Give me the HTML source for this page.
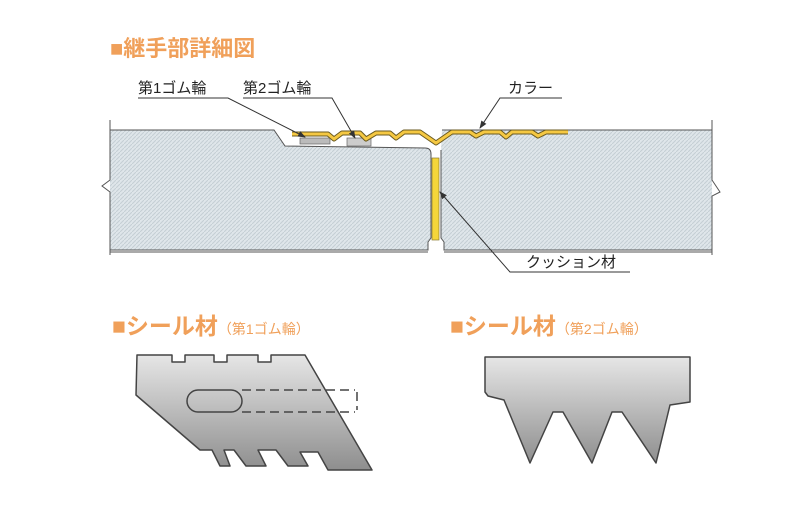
<!DOCTYPE html>
<html><head><meta charset="utf-8"><style>
body{margin:0;background:#fff}
svg{display:block}
text{font-family:"Liberation Sans","Noto Sans CJK JP",sans-serif}
</style></head><body>
<svg width="800" height="519" viewBox="0 0 800 519" xmlns="http://www.w3.org/2000/svg">
<defs>
<pattern id="hp" width="4" height="4" patternUnits="userSpaceOnUse">
<rect width="4" height="4" fill="#dfe6ea"/><path d="M0 4L4 0" stroke="#c4ced4" stroke-width="1"/>
</pattern>
<linearGradient id="g1" x1="0" y1="0" x2="0" y2="1">
<stop offset="0" stop-color="#e6e6e6"/><stop offset="1" stop-color="#8e8e8e"/>
</linearGradient>
<marker id="ar" markerWidth="8" markerHeight="8" refX="7" refY="4" orient="auto" markerUnits="userSpaceOnUse">
<path d="M0 1 L8 4 L0 7 Z" fill="#333"/>
</marker>
</defs>
<text x="110" y="56" font-size="22" fill="#f0a05a" font-weight="bold">■継手部詳細図</text>

<!-- pipes -->
<path d="M110 130 L274 130 L285 146 L425 148 Q431 148 431 154 L431 238 L428 242 L428 250 L110 250 Z" fill="url(#hp)"/>
<path d="M110 130 L274 130 L285 146 L425 148 Q431 148 431 154 L431 238 L428 242 L428 250 L110 250" fill="none" stroke="#555" stroke-width="1"/>
<path d="M442 130 L712 130 L712 250 L444 250 L444 242 L441 238 L441 150 Z" fill="url(#hp)"/>
<path d="M442 130 L712 130 M712 250 L444 250 L444 242 L441 238 L441 150" fill="none" stroke="#555" stroke-width="1"/>
<path d="M110 120 L110 180 L102 186 L110 192 L110 255" fill="none" stroke="#555"/>
<path d="M712 120 L712 180 L720 192 L712 196 L712 255" fill="none" stroke="#555"/>
<path d="M110 252 L428 252 M444 252 L712 252" stroke="#555"/>
<rect x="432" y="158" width="7" height="82" fill="#f5d63a" stroke="#8a7a30" stroke-width="0.7"/>
<rect x="300" y="138" width="30" height="6" fill="#bbb" stroke="#666" stroke-width="0.7"/>
<rect x="347" y="138" width="24" height="8" fill="#ccc" stroke="#666" stroke-width="0.7"/>
<path d="M292 134 L328 134 L334 139 L342 133 L360 133 L366 139 L376 133 L390 133 L396 138 L404 132 L420 132 L436 143 L452 132 L470 132 L476 136 L484 132 L500 132 L506 137 L512 132 L532 132 L538 136 L546 132 L568 132" fill="none" stroke="#6a5a20" stroke-width="5" stroke-linejoin="round"/>
<path d="M292 134 L328 134 L334 139 L342 133 L360 133 L366 139 L376 133 L390 133 L396 138 L404 132 L420 132 L436 143 L452 132 L470 132 L476 136 L484 132 L500 132 L506 137 L512 132 L532 132 L538 136 L546 132 L568 132" fill="none" stroke="#f5c842" stroke-width="3" stroke-linejoin="round"/>

<g font-size="15" fill="#222">
<text x="138" y="93">第1ゴム輪</text>
<text x="243" y="93">第2ゴム輪</text>
<text x="508" y="93">カラー</text>
<text x="526" y="267">クッション材</text>
</g>
<g stroke="#333" stroke-width="1" fill="none">
<path d="M138 98 L228 98 L305 137" marker-end="url(#ar)"/>
<path d="M243 98 L332 98 L355 138" marker-end="url(#ar)"/>
<path d="M562 98 L500 98 L480 128" marker-end="url(#ar)"/>
<path d="M630 272 L510 272 L440 192" marker-end="url(#ar)"/>
</g>

<text x="112" y="334" font-size="23" fill="#f0a05a" font-weight="bold">■シール材<tspan font-size="14" font-weight="normal">（第1ゴム輪）</tspan></text>
<text x="450" y="334" font-size="23" fill="#f0a05a" font-weight="bold">■シール材<tspan font-size="14" font-weight="normal">（第2ゴム輪）</tspan></text>

<path d="M137 355 L172 355 L172 362 L185 362 L185 355 L214 355 L214 362 L227 362 L227 355 L258 355 L258 362 L271 362 L271 355 L305 355 L372 470 L328 470 L318 452 L300 452 L308 466 L288 466 L276 450 L258 450 L266 466 L246 466 L234 450 L224 450 L230 466 L220 466 L212 450 L200 450 L136 395 Z" fill="url(#g1)" stroke="#444" stroke-width="1.5" stroke-linejoin="round"/>
<rect x="187" y="390" width="55" height="22" rx="11" fill="none" stroke="#444" stroke-width="1.5"/>
<path d="M242 390 L355 390 M242 412 L355 412 M357 392 L357 410" stroke="#444" stroke-width="1.5" stroke-dasharray="9 5"/>

<path d="M485 357 L690 357 L690 402 L670 405 L656 463 L622 412 L612 412 L592 463 L563 412 L553 412 L530 463 L504 400 L488 396 L485 392 Z" fill="url(#g1)" stroke="#444" stroke-width="1.5" stroke-linejoin="round"/>
</svg>
</body></html>
